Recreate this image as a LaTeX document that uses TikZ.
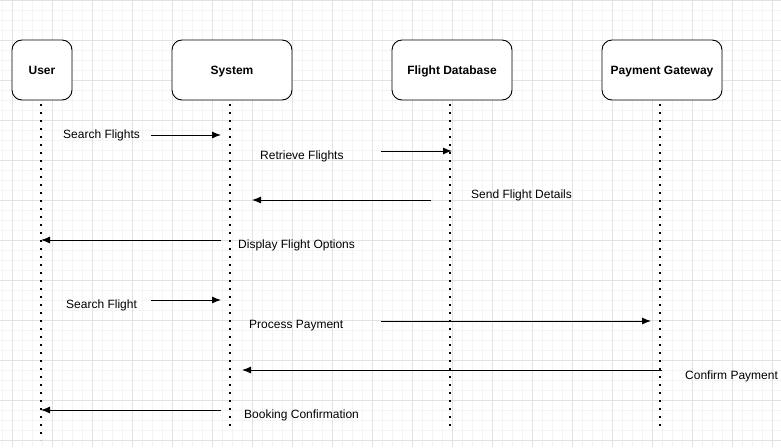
\documentclass[tikz,border=0pt]{standalone}
\usepackage{fontspec}
\setmainfont{Liberation Sans}
\usetikzlibrary{arrows.meta}
\definecolor{minorgrid}{HTML}{F4F4F4}
\definecolor{majorgrid}{HTML}{E2E2E2}
\tikzset{
  actor/.style={draw=black, line width=0.9pt, rounded corners=10pt, minimum width=120pt, minimum height=60pt, inner sep=0pt, text height=8.6pt, text depth=0pt, font=\fontsize{12pt}{14pt}\selectfont\bfseries, fill=white},
  actorsmall/.style={actor, minimum width=60pt},
  lifeline/.style={line width=2.4pt, dash pattern=on 2.4pt off 5.6pt, black},
  msg/.style={line width=0.9pt, -{Latex[length=9pt, width=7pt]}},
  lbl/.style={font=\fontsize{12pt}{14pt}\selectfont, inner sep=0pt, anchor=west}
}
\begin{document}
\begin{tikzpicture}[x=1pt, y=-1pt]
\useasboundingbox (0,0) rectangle (781,447);
\fill[white] (0,0) rectangle (781,447);
% minor grid
\foreach \x in {2,12,...,782} \draw[minorgrid, line width=1pt] (\x+0.5,0) -- (\x+0.5,447);
\foreach \y in {0,10,...,447} \draw[minorgrid, line width=1pt] (0,\y+0.5) -- (781,\y+0.5);
% major grid
\foreach \x in {12,52,...,781} \draw[majorgrid, line width=1pt] (\x+0.5,0) -- (\x+0.5,447);
\foreach \y in {0,40,...,447} \draw[majorgrid, line width=1pt] (0,\y+0.5) -- (781,\y+0.5);

% actors
\node[actorsmall] (user) at (42,70) {User};
\node[actor] (sys) at (232,70) {System};
\node[actor] (fdb) at (452,70) {Flight Database};
\node[actor] (pay) at (662,70) {Payment Gateway};

% lifeline ends
\coordinate (userE) at (41,440);
\coordinate (sysE) at (230,430);
\coordinate (fdbE) at (450,430);
\coordinate (payE) at (660,430);
\draw[lifeline] (41,104) -- (userE);
\draw[lifeline] (230,104) -- (sysE);
\draw[lifeline] (450,104) -- (fdbE);
\draw[lifeline] (660,104) -- (payE);

% message coordinates
\coordinate (m1a) at (151,135); \coordinate (m1b) at (221,135);
\coordinate (m2a) at (381,151); \coordinate (m2b) at (452,151);
\coordinate (m3a) at (431,200); \coordinate (m3b) at (252,200);
\coordinate (m4a) at (221,240); \coordinate (m4b) at (41,240);
\coordinate (m5a) at (151,300); \coordinate (m5b) at (221,300);
\coordinate (m6a) at (381,321); \coordinate (m6b) at (651,321);
\coordinate (m7a) at (662,370); \coordinate (m7b) at (242,370);
\coordinate (m8a) at (221,410); \coordinate (m8b) at (41,410);

\draw[msg] (m1a) -- (m1b);
\draw[msg] (m2a) -- (m2b);
\draw[msg] (m3a) -- (m3b);
\draw[msg] (m4a) -- (m4b);
\draw[msg] (m5a) -- (m5b);
\draw[msg] (m6a) -- (m6b);
\draw[msg] (m7a) -- (m7b);
\draw[msg] (m8a) -- (m8b);

% labels
\node[lbl] (l1) at (63,135.5) {Search Flights};
\node[lbl] (l2) at (260,156.5) {Retrieve Flights};
\node[lbl] (l3) at (471,195.5) {Send Flight Details};
\node[lbl] (l4) at (238,245.5) {Display Flight Options};
\node[lbl] (l5) at (66,305.5) {Search Flight};
\node[lbl] (l6) at (249,325.5) {Process Payment};
\node[lbl] (l7) at (685,376.5) {Confirm Payment};
\node[lbl] (l8) at (244,415.5) {Booking Confirmation};
\end{tikzpicture}
\end{document}
